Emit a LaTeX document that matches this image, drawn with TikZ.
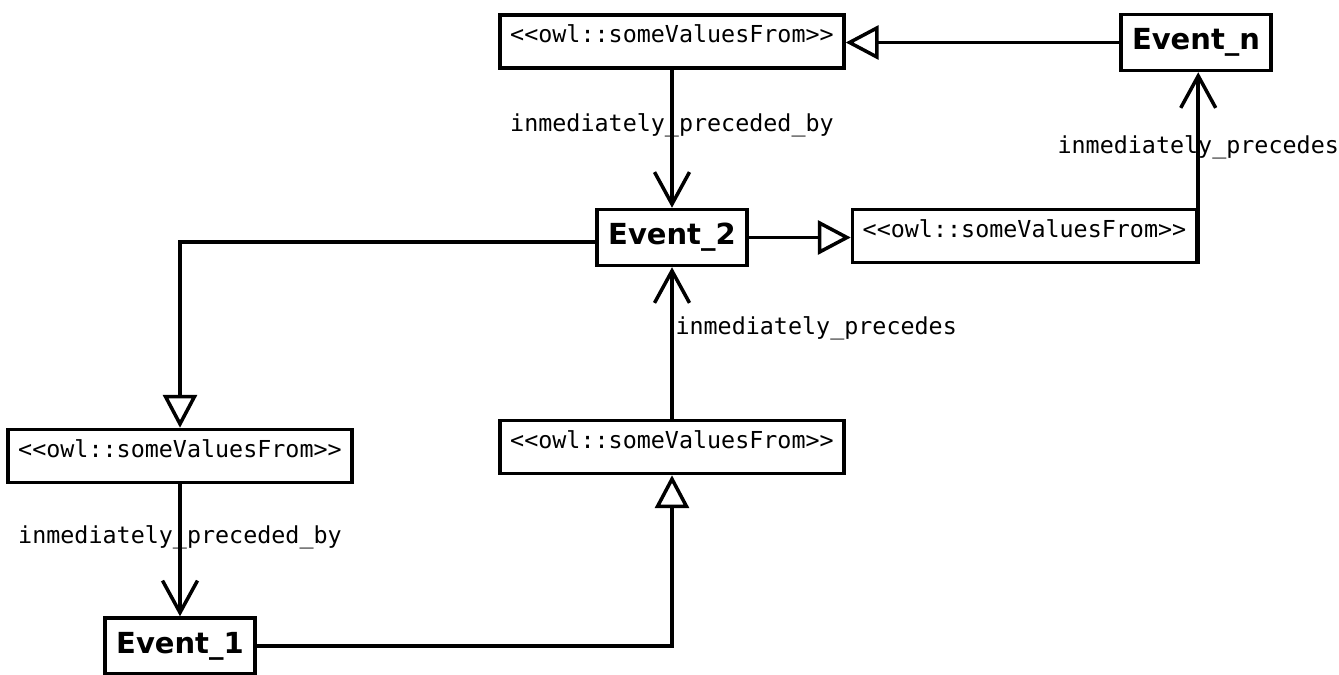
\documentclass[tikz,border=0pt]{standalone}
\usepackage{fontspec}
\setmainfont{DejaVu Sans}
\setsansfont{DejaVu Sans}
\setmonofont{DejaVu Sans Mono}
\usetikzlibrary{arrows.meta, positioning}

\begin{document}
\begin{tikzpicture}[x=0.02cm, y=-0.02cm, line width=2pt,
  event/.style={draw, minimum width=3cm, minimum height=1.12cm, inner sep=0pt,
    font=\sffamily\bfseries\fontsize{16.5}{18}\selectfont},
  restr/.style={draw, minimum width=6.88cm, inner sep=0pt, text height=0.56cm,
    text depth=0.5cm, font=\ttfamily\fontsize{13.3}{15}\selectfont},
  rel/.style={font=\ttfamily\fontsize{13.3}{15}\selectfont, inner sep=1pt},
  gen/.style={-{Triangle[open, length=0.66cm, width=0.68cm]}},
  nav/.style={-{Straight Barb[length=0.64cm, width=0.7cm]}}]
\useasboundingbox (0,0) rectangle (1339,675);
% events
\node[event] (evn) at (1196,42.5) {Event\_n};
\node[event] (ev2) at (672,237.5) {Event\_2};
\node[event] (ev1) at (180,646) {Event\_1};
% restrictions
\node[restr] (svftop) at (672,41.5) {<<owl::someValuesFrom>>};
\node[restr] (svfright) at (1024.5,236) {<<owl::someValuesFrom>>};
\node[restr] (svfleft) at (180,456) {<<owl::someValuesFrom>>};
\node[restr] (svfmid) at (672,447) {<<owl::someValuesFrom>>};
%
\draw[gen] (evn.west) -- (evn.west -| svftop.east);
\draw[nav] (svftop.south) -- node[rel, pos=0.4] (lbtop) {inmediately\_preceded\_by} (ev2.north);
\draw[gen] (ev2.east) -- (ev2.east -| svfright.west);
\draw[nav] (svfright.south east) -- node[rel, pos=0.61] (lbright) {inmediately\_precedes} (svfright.south east |- evn.south);
\draw[gen] ([yshift=-0.09cm]ev2.west) -| (svfleft.north);
\draw[nav] (svfleft.south) -- node[rel, pos=0.4] (lbleft) {inmediately\_preceded\_by} (ev1.north);
\draw[gen] (ev1.east) -| (svfmid.south);
\draw[nav] (svfmid.north) -- node[rel, pos=0.6, right] (lbmid) {inmediately\_precedes} (ev2.south);
\end{tikzpicture}
\end{document}
